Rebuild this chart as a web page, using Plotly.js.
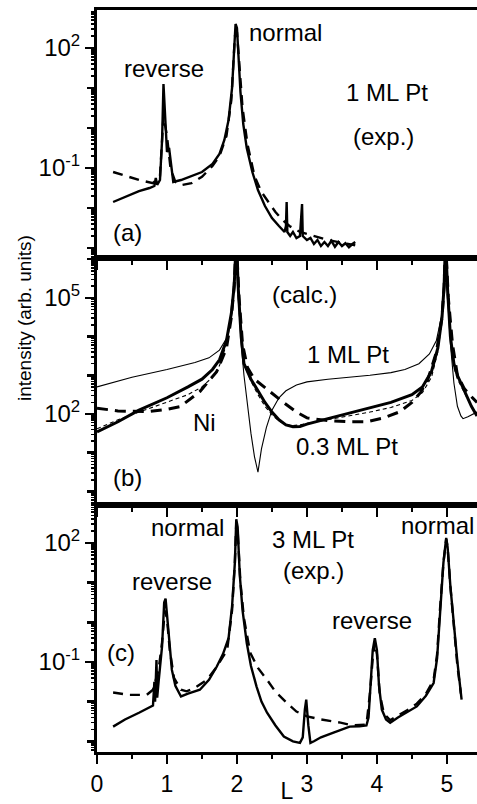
<!DOCTYPE html>
<html>
<head>
<meta charset="utf-8">
<script src="https://cdn.plot.ly/plotly-3.0.1.min.js"></script>
<style>html,body{margin:0;padding:0;background:#fff;}#chart{width:477px;height:804px;}</style>
</head>
<body>
<div id="chart"></div>
<script>
const aExpL   = [0.23,0.4,0.6,0.75,0.82,0.84,0.86,0.90,0.93,0.95,0.97,1.0,1.03,1.06,1.09,1.2,1.35,1.5,1.65,1.75,1.82,1.88,1.93,1.96,1.98,2.0,2.02,2.05,2.09,2.14,2.22,2.3,2.4,2.5,2.6,2.68,2.70,2.71,2.72,2.76,2.8,2.85,2.9,2.92,2.93,2.94,3.0,3.05,3.1,3.15,3.2,3.25,3.3,3.35,3.4,3.45,3.5,3.55,3.6,3.65,3.69];
const aExpLog = [-1.85,-1.72,-1.58,-1.5,-1.45,-1.25,-1.42,-1.3,-0.3,1.1,0.3,-0.6,-0.5,-0.9,-1.35,-1.3,-1.2,-1.1,-0.9,-0.65,-0.3,0.2,1.0,2.0,2.6,2.5,1.7,0.9,0.1,-0.5,-1.1,-1.55,-1.95,-2.25,-2.45,-2.6,-2.45,-1.85,-2.6,-2.7,-2.6,-2.75,-2.7,-2.3,-1.9,-2.7,-2.8,-2.75,-2.9,-2.8,-2.95,-2.85,-2.95,-2.82,-2.97,-2.85,-2.95,-2.88,-2.98,-2.9,-2.85];
const aCalcL   = [0.23,0.4,0.6,0.8,0.9,0.95,1.0,1.05,1.12,1.2,1.35,1.5,1.65,1.75,1.85,1.92,1.97,2.0,2.03,2.08,2.15,2.25,2.35,2.45,2.55,2.65,2.75,2.9,3.1,3.3,3.5,3.69];
const aCalcLog = [-1.1,-1.2,-1.3,-1.38,-1.2,0.3,-0.2,-1.0,-1.35,-1.43,-1.38,-1.22,-0.95,-0.7,-0.2,0.7,2.3,2.4,1.6,0.5,-0.4,-1.2,-1.6,-1.85,-2.1,-2.3,-2.45,-2.6,-2.7,-2.8,-2.87,-2.93];

// ---- Panel (b): calculations
const b1mlL   = [0,0.5,1.0,1.4,1.6,1.75,1.85,1.92,1.96,1.99,2.02,2.06,2.1,2.15,2.2,2.25,2.3,2.35,2.42,2.5,2.6,2.7,2.85,3.0,3.3,3.6,3.9,4.2,4.4,4.6,4.75,4.85,4.92,4.96,4.98,5.01,5.05,5.1,5.15,5.2,5.23,5.3,5.43];
const b1mlLog = [2.7,2.95,3.15,3.33,3.45,3.65,3.95,4.5,5.3,6.5,5.0,3.8,3.0,2.2,1.5,0.9,0.5,1.1,1.65,2.1,2.42,2.6,2.75,2.83,2.9,2.95,3.0,3.07,3.15,3.3,3.55,3.9,4.5,5.3,6.5,5.0,3.8,2.8,2.2,1.95,1.88,1.93,2.05];
const bNiL   = [0,0.3,0.6,1.0,1.3,1.5,1.65,1.75,1.85,1.92,1.96,1.99,2.02,2.06,2.1,2.2,2.3,2.4,2.5,2.6,2.7,2.8,2.9,3.0,3.3,3.6,3.9,4.2,4.5,4.65,4.78,4.87,4.93,4.96,4.98,5.01,5.05,5.1,5.15,5.25,5.35,5.43];
const bNiLog = [1.54,1.8,2.1,2.42,2.7,2.9,3.15,3.4,3.9,4.6,5.3,6.5,5.2,4.0,3.3,2.9,2.6,2.3,2.05,1.85,1.72,1.67,1.68,1.74,1.88,2.02,2.15,2.3,2.5,2.7,3.1,3.7,4.5,5.3,6.5,5.2,4.0,3.3,3.0,2.6,2.2,1.95];
const bDashL   = [0,0.3,0.71,1.0,1.19,1.47,1.71,1.85,1.92,1.96,1.99,2.03,2.08,2.15,2.25,2.45,2.65,2.85,3.0,3.3,3.6,3.85,4.1,4.33,4.5,4.62,4.72,4.85,4.93,4.96,4.98,5.02,5.08,5.15,5.25,5.35,5.43];
const bDashLog = [2.15,2.08,2.06,2.12,2.19,2.58,3.09,3.7,4.5,5.3,6.5,5.0,3.8,3.2,2.9,2.6,2.32,2.05,1.9,1.83,1.8,1.8,1.9,2.06,2.3,2.55,2.85,3.6,4.5,5.3,6.5,5.0,3.8,3.0,2.65,2.45,2.3];
const bThinDashL   = [0,0.3,0.6,1.0,1.3,1.5,1.65,1.75,1.85,1.92,1.96,1.99,2.02,2.06,2.1,2.2,2.3,2.4,2.5,2.6,2.7,2.8,2.9,3.0,3.3,3.6,3.9,4.2,4.5,4.65,4.78,4.87,4.93,4.96,4.98,5.01,5.05,5.1,5.15,5.25,5.35,5.43];
const bThinDashLog = [1.62,1.85,2.05,2.3,2.5,2.7,2.95,3.25,3.8,4.5,5.3,6.5,5.2,4.0,3.3,2.85,2.5,2.2,1.98,1.82,1.72,1.7,1.72,1.76,1.86,1.95,2.05,2.17,2.35,2.55,2.95,3.6,4.5,5.3,6.5,5.2,4.0,3.2,2.9,2.55,2.2,2.0];

// ---- Panel (c): 3 ML Pt, experiment (solid) and calculation (dashed)
const cExpL   = [0.23,0.4,0.6,0.75,0.8,0.82,0.83,0.85,0.86,0.88,0.9,0.93,0.96,0.98,1.0,1.03,1.07,1.12,1.2,1.3,1.47,1.6,1.71,1.8,1.88,1.93,1.97,1.99,2.01,2.04,2.08,2.14,2.2,2.28,2.35,2.43,2.55,2.67,2.8,2.9,2.94,2.97,2.99,3.02,3.05,3.1,3.2,3.37,3.5,3.61,3.75,3.85,3.88,3.91,3.94,3.97,4.0,4.03,4.07,4.13,4.19,4.3,4.45,4.57,4.7,4.81,4.86,4.9,4.95,4.99,5.01,5.05,5.1,5.15,5.21];
const cExpLog = [-2.63,-2.45,-2.28,-2.15,-2.1,-1.5,-2.0,-0.95,-1.9,-1.5,-1.2,-0.6,0.5,0.6,0.2,-0.5,-1.2,-1.6,-1.87,-1.8,-1.7,-1.45,-1.12,-0.8,-0.4,0.4,1.5,2.6,2.4,1.2,0.3,-0.52,-1.1,-1.62,-2.0,-2.28,-2.6,-2.88,-3.0,-3.04,-2.9,-2.2,-1.95,-2.6,-3.04,-3.0,-2.9,-2.79,-2.7,-2.63,-2.62,-2.6,-2.4,-1.6,-0.7,-0.4,-0.7,-1.6,-2.2,-2.45,-2.53,-2.4,-2.25,-2.12,-1.85,-1.53,-0.9,0.31,1.5,2.13,1.9,0.9,-0.11,-1.0,-1.95];
const cCalcL   = [0.23,0.45,0.71,0.8,0.88,0.93,0.97,1.0,1.04,1.1,1.2,1.28,1.4,1.57,1.7,1.86,1.93,1.97,1.99,2.01,2.05,2.1,2.19,2.3,2.43,2.55,2.71,2.85,3.0,3.2,3.48,3.65,3.85,3.9,3.94,3.97,4.0,4.04,4.1,4.19,4.3,4.45,4.57,4.7,4.81,4.86,4.9,4.95,4.99,5.01,5.05,5.1,5.15,5.2];
const cCalcLog = [-1.77,-1.83,-1.83,-1.7,-1.2,-0.5,0.3,0.1,-0.7,-1.4,-1.7,-1.74,-1.65,-1.45,-1.15,-0.7,0.3,1.5,2.5,2.3,1.0,0.1,-0.77,-1.15,-1.45,-1.75,-2.03,-2.25,-2.37,-2.45,-2.53,-2.6,-2.58,-1.8,-0.9,-0.5,-0.8,-1.8,-2.3,-2.47,-2.35,-2.2,-2.05,-1.8,-1.45,-0.8,0.3,1.5,2.1,1.9,0.9,-0.2,-1.1,-1.8];

// tick labels (decade exponent -> label)
const aTickLabels = {"-1":"10<sup>-1</sup>","2":"10<sup>2</sup>"};
const bTickLabels = {"2":"10<sup>2</sup>","5":"10<sup>5</sup>"};
const cTickLabels = {"-1":"10<sup>-1</sup>","2":"10<sup>2</sup>"};
const xTickVals   = [0,1,2,3,4,5];
const xTickLabels = ["0","1","2","3","4","5"];

const pw = v => v.map(e => Math.pow(10, e));
const FONT = "Arial, 'Liberation Sans', sans-serif";

function line(x, y, xa, ya, width, dash) {
  return {x: x, y: pw(y), xaxis: xa, yaxis: ya, type: 'scatter', mode: 'lines',
          line: {color: '#000', width: width, dash: dash}, hoverinfo: 'skip'};
}

const traces = [
  line(aCalcL, aCalcLog, 'x', 'y', 2.4, '10px,7px'),
  line(aExpL, aExpLog, 'x', 'y', 2.4, 'solid'),
  line(b1mlL, b1mlLog, 'x2', 'y2', 1.1, 'solid'),
  line(bThinDashL, bThinDashLog, 'x2', 'y2', 1.1, '4px,3px'),
  line(bDashL, bDashLog, 'x2', 'y2', 3, '11px,7px'),
  line(bNiL, bNiLog, 'x2', 'y2', 3, 'solid'),
  line(cCalcL, cCalcLog, 'x3', 'y3', 2.4, '10px,7px'),
  line(cExpL, cExpLog, 'x3', 'y3', 2.4, 'solid')
];

const baseTick = {ticks: 'outside', tickcolor: '#000', showgrid: false, zeroline: false};

// main (labelled) y axis + overlay axes for unlabelled decades and minor ticks
function yAxes(lo, hi, labels, domain, anchor) {
  const lab = [], labText = [], unl = [], minor = [];
  for (let d = Math.floor(lo); d <= Math.ceil(hi); d++) {
    if (labels[String(d)]) { lab.push(Math.pow(10, d)); labText.push(labels[String(d)]); }
    else unl.push(Math.pow(10, d));
    for (let m = 2; m <= 9; m++) minor.push(m * Math.pow(10, d));
  }
  const main = Object.assign({}, baseTick, {type: 'log', range: [lo, hi], domain: domain, anchor: anchor,
          tickmode: 'array', tickvals: lab, ticktext: labText, ticklen: 9, tickwidth: 2.5,
          showline: true, linewidth: 3, linecolor: '#000',
          tickfont: {family: FONT, size: 24, color: '#000'}});
  const major2 = Object.assign({}, baseTick, {type: 'log', range: [lo, hi], anchor: anchor, side: 'left',
          tickmode: 'array', tickvals: unl, ticklen: 9, tickwidth: 2.5, showticklabels: false, showline: false});
  const minorAx = Object.assign({}, baseTick, {type: 'log', range: [lo, hi], anchor: anchor, side: 'left',
          tickmode: 'array', tickvals: minor, ticklen: 5, tickwidth: 1.5, showticklabels: false, showline: false});
  return [main, major2, minorAx];
}
function xAxis(anchor, labels) {
  return Object.assign({}, baseTick, {range: [0, 5.43], anchor: anchor, tickmode: 'array', tickvals: xTickVals,
          ticktext: xTickLabels, showticklabels: labels, ticklen: 9, tickwidth: 2.5,
          showline: true, linewidth: 3, linecolor: '#000', mirror: true,
          tickfont: {family: FONT, size: 23, color: '#000'}});
}
function xMinor(anchor, over) {
  return Object.assign({}, baseTick, {range: [0, 5.43], anchor: anchor, overlaying: over, side: 'bottom',
          tickmode: 'linear', tick0: 0.5, dtick: 1, ticklen: 6, tickwidth: 2, showticklabels: false, showline: false});
}

const H = 742;
const dC = [0, 247 / H], dB = [247 / H, 494 / H], dA = [494 / H, 1];
const [yA, yA2, yA3] = yAxes(-3.25, 2.95, aTickLabels, dA, 'x');
const [yB, yB2, yB3] = yAxes(-0.35, 6.03, bTickLabels, dB, 'x2');
const [yC, yC2, yC3] = yAxes(-3.27, 2.96, cTickLabels, dC, 'x3');
yA2.overlaying = 'y'; yA3.overlaying = 'y';
yB2.overlaying = 'y2'; yB3.overlaying = 'y2';
yC2.overlaying = 'y3'; yC3.overlaying = 'y3';

const xaxis3 = xAxis('y3', true);
xaxis3.title = {text: 'L', font: {family: FONT, size: 23, color: '#000'}, standoff: 10};

// empty traces so that overlay axes are drawn
[['x','y4'],['x','y5'],['x2','y6'],['x2','y7'],['x3','y8'],['x3','y9'],['x4','y'],['x5','y2'],['x6','y3']].forEach(p => {
  traces.push({x: [], y: [], xaxis: p[0], yaxis: p[1], type: 'scatter', mode: 'lines', hoverinfo: 'skip', showlegend: false});
});

function ann(text, x, y, xr, yr) {
  return {text: text, x: x, y: y, xref: xr, yref: yr, showarrow: false,
          xanchor: 'center', yanchor: 'middle',
          font: {family: FONT, size: 24, color: '#000'}};
}

const annotations = [
  ann('normal', 2.69, 2.4, 'x', 'y'),
  ann('reverse', 0.96, 1.5, 'x', 'y'),
  ann('1 ML Pt', 4.14, 0.9, 'x', 'y'),
  ann('(exp.)', 4.1, -0.2, 'x', 'y'),
  ann('(a)', 0.43, -2.6, 'x', 'y'),
  ann('(calc.)', 2.97, 5.1, 'x2', 'y2'),
  ann('1 ML Pt', 3.59, 3.55, 'x2', 'y2'),
  ann('Ni', 1.54, 1.79, 'x2', 'y2'),
  ann('0.3 ML Pt', 3.57, 1.15, 'x2', 'y2'),
  ann('(b)', 0.44, 0.35, 'x2', 'y2'),
  ann('normal', 1.29, 2.4, 'x3', 'y3'),
  ann('3 ML Pt', 3.09, 2.08, 'x3', 'y3'),
  ann('(exp.)', 3.09, 1.3, 'x3', 'y3'),
  ann('reverse', 1.07, 1.02, 'x3', 'y3'),
  ann('(c)', 0.34, -0.75, 'x3', 'y3'),
  ann('reverse', 3.93, 0.04, 'x3', 'y3'),
  ann('normal', 4.86, 2.45, 'x3', 'y3'),
  {text: 'intensity (arb. units)', x: -0.192, y: (752 - 318) / H, xref: 'paper', yref: 'paper',
   xanchor: 'center', yanchor: 'middle',
   textangle: -90, showarrow: false, font: {family: FONT, size: 19, color: '#000'}}
];

const layout = {
  width: 477, height: 804,
  margin: {l: 97, r: 0, t: 10, b: 52, pad: 0},
  paper_bgcolor: '#fff', plot_bgcolor: '#fff',
  showlegend: false,
  font: {family: FONT, color: '#000'},
  xaxis: xAxis('y', false),
  xaxis2: xAxis('y2', false),
  xaxis3: xaxis3,
  xaxis4: xMinor('y', 'x'),
  xaxis5: xMinor('y2', 'x2'),
  xaxis6: xMinor('y3', 'x3'),
  yaxis: yA, yaxis2: yB, yaxis3: yC,
  yaxis4: yA2, yaxis5: yA3,
  yaxis6: yB2, yaxis7: yB3,
  yaxis8: yC2, yaxis9: yC3,
  annotations: annotations
};

Plotly.newPlot('chart', traces, layout, {displayModeBar: false, staticPlot: true});
</script>
</body>
</html>
